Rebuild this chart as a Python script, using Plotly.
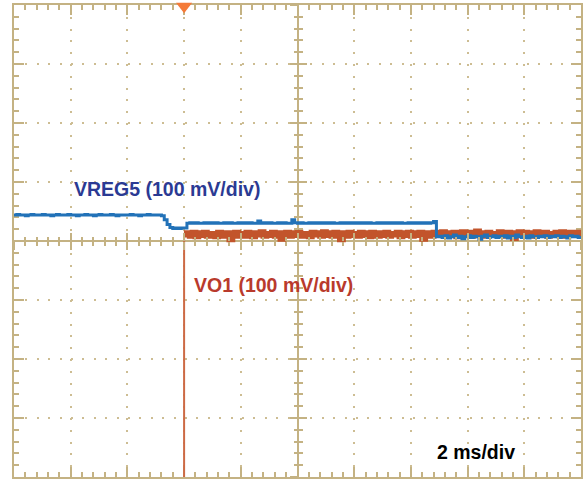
import plotly.graph_objects as go

# Scope capture: 2 ms/div horizontally, 100 mV/div vertically (centre = 0)
SAMPLE_MS = 0.1
VREG5_T0 = -10.0
VO1_T0 = -4.1
TRIGGER_MS = -4.0
TRIGGER_MARK_MV = 398

# VREG5 (mV) sampled every 0.1 ms from -10 ms
vreg5_mv = [
    44, 45, 44, 44, 43, 44, 45, 44, 44, 44,
    45, 44, 44, 43, 44, 45, 44, 44, 44, 45,
    44, 44, 43, 44, 44, 45, 44, 44, 43, 44,
    45, 44, 44, 44, 45, 44, 43, 44, 44, 44,
    44, 45, 44, 44, 43, 44, 44, 45, 44, 44,
    44, 44, 43, 36, 28, 23, 21, 22, 21, 22,
    22, 30, 31, 30, 31, 30, 30, 31, 30, 31,
    30, 31, 30, 30, 31, 30, 31, 30, 30, 31,
    30, 31, 30, 31, 30, 30, 34, 30, 31, 30,
    31, 30, 30, 31, 30, 31, 30, 30, 36, 31,
    30, 31, 30, 30, 31, 30, 31, 30, 31, 30,
    31, 30, 31, 30, 30, 31, 30, 31, 30, 31,
    30, 31, 30, 31, 30, 31, 30, 30, 31, 30,
    31, 30, 31, 30, 31, 30, 31, 30, 30, 31,
    30, 31, 30, 31, 30, 31, 30, 31, 33, 7,
    8, 6, 9, 5, 7, 10, 6, 8, 4, 7,
    9, 6, 8, 7, 3, 8, 10, 6, 7, 9,
    6, 8, 7, 9, 5, 8, 6, 10, 7, 6,
    8, 5, 9, 7, 6, 8, 7, 9, 6, 8,
    7, 9, 6, 8, 7, 5, 9, 7, 8, 6,
    7,
]

# VO1 (mV) sampled every 0.1 ms from -4.1 ms (off screen before the rise)
vo1_mv = [
    -700,
    11, 13, 9, 14, 8, 13, 10, 14, 9, 12,
    11, 8, 14, 12, 9, 13, 3, 11, 14, 9,
    12, 9, 14, 10, 8, 13, 11, 15, 9, 12,
    10, 14, 9, 13, 4, 11, 14, 9, 13, 10,
    14, 9, 12, 10, 8, 14, 11, 13, 9, 15,
    10, 13, 9, 14, 11, 3, 13, 9, 14, 10,
    12, 9, 14, 10, 13, 8, 14, 11, 9, 13,
    10, 14, 9, 12, 11, 14, 8, 13, 10, 14,
    9, 13, 10, 14, 4, 11, 13, 9, 14, 10,
    12, 15, 9, 13, 10, 14, 8, 12, 15, 10,
    14, 9, 12, 16, 10, 13, 9, 14, 12, 10,
    12, 15, 10, 9, 14, 12, 5, 13, 15, 10,
    14, 10, 13, 9, 15, 12, 10, 14, 9, 12,
    10, 14, 12, 15, 9, 13, 14, 10, 12, 14,
    12,
]

t_vreg5 = [round(VREG5_T0 + SAMPLE_MS * i, 2) for i in range(len(vreg5_mv))]
t_vo1 = [round(VO1_T0 + SAMPLE_MS * i, 2) for i in range(len(vo1_mv))]

GRID = '#CDBD93'
AXIS = '#C4B283'
X_RANGE = [-10, 10]
Y_RANGE = [-400, 400]

fig = go.Figure()

# rising edge of VO1 (thin), then the settled band (thick)
fig.add_trace(go.Scatter(
    x=t_vo1[:2], y=vo1_mv[:2], mode='lines', line_shape='hv',
    line=dict(color='#CD6A45', width=2), hoverinfo='skip'
))
fig.add_trace(go.Scatter(
    x=t_vo1[1:], y=vo1_mv[1:], mode='lines', line_shape='hv',
    line=dict(color='#C2542B', width=6), hoverinfo='skip'
))
fig.add_trace(go.Scatter(
    x=t_vreg5, y=vreg5_mv, mode='lines', line_shape='hv',
    line=dict(color='#2272B8', width=3), hoverinfo='skip'
))
# trigger marker, sitting on the top edge
fig.add_trace(go.Scatter(
    x=[TRIGGER_MS], y=[TRIGGER_MARK_MV], mode='markers', cliponaxis=False,
    marker=dict(symbol='triangle-down', size=14, color='#F47A38', line=dict(width=0)),
    hoverinfo='skip'
))
# empty traces so the centre-cross tick axes are drawn
for n in (2, 3):
    fig.add_trace(go.Scatter(x=[], y=[], xaxis=f'x{n}', yaxis=f'y{n}'))

border_axis = dict(
    showline=True, linecolor=AXIS, linewidth=2, mirror='allticks',
    ticks='inside', ticklen=10, tickcolor=AXIS, tickwidth=2,
    showticklabels=False, zeroline=True, zerolinecolor=AXIS, zerolinewidth=2,
    showgrid=True, gridcolor=GRID, gridwidth=2, layer='below traces',
)

fig.update_layout(
    width=583, height=480,
    margin=dict(l=14, r=0, t=5, b=3),
    plot_bgcolor='white', paper_bgcolor='white',
    showlegend=False,
    xaxis=dict(
        range=X_RANGE, dtick=2, tick0=0, griddash='2px,9.8px',
        minor=dict(dtick=0.4, ticklen=5, tickcolor=AXIS, tickwidth=2, ticks='inside', showgrid=False),
        **border_axis
    ),
    yaxis=dict(
        range=Y_RANGE, dtick=100, tick0=0, griddash='2px,9.4px',
        minor=dict(dtick=20, ticklen=5, tickcolor=AXIS, tickwidth=2, ticks='inside', showgrid=False),
        **border_axis
    ),
)

for n, side in ((2, 'inside'), (3, 'outside')):
    fig.update_layout(**{
        f'xaxis{n}': dict(
            overlaying='x', anchor='free', position=0.5, range=X_RANGE, dtick=2, tick0=0,
            ticks=side, ticklen=8, tickcolor=AXIS, tickwidth=2,
            minor=dict(dtick=0.4, ticklen=4, tickcolor=AXIS, tickwidth=2, ticks=side, showgrid=False),
            showticklabels=False, showgrid=False, zeroline=False, showline=False,
        ),
        f'yaxis{n}': dict(
            overlaying='y', anchor='free', position=0.5, range=Y_RANGE, dtick=100, tick0=0,
            ticks=side, ticklen=8, tickcolor=AXIS, tickwidth=2,
            minor=dict(dtick=20, ticklen=4, tickcolor=AXIS, tickwidth=2, ticks=side, showgrid=False),
            showticklabels=False, showgrid=False, zeroline=False, showline=False,
        ),
    })

label_font = dict(family='Liberation Sans, Arial, sans-serif', size=19.5)
fig.add_annotation(text='<b>VREG5 (100 mV/div)</b>', xref='paper', yref='paper',
                   x=0.103, y=0.61, xanchor='left', yanchor='middle', showarrow=False,
                   font=dict(color='#2B3A93', **label_font))
fig.add_annotation(text='<b>VO1 (100 mV/div)</b>', xref='paper', yref='paper',
                   x=0.314, y=0.407, xanchor='left', yanchor='middle', showarrow=False,
                   font=dict(color='#B93A2C', **label_font))
fig.add_annotation(text='<b>2 ms/div</b>', xref='paper', yref='paper',
                   x=0.743, y=0.053, xanchor='left', yanchor='middle', showarrow=False,
                   font=dict(color='black', **label_font))

fig.write_html("out.html", config={'displayModeBar': False},
               post_script="document.body.style.margin='0';")
